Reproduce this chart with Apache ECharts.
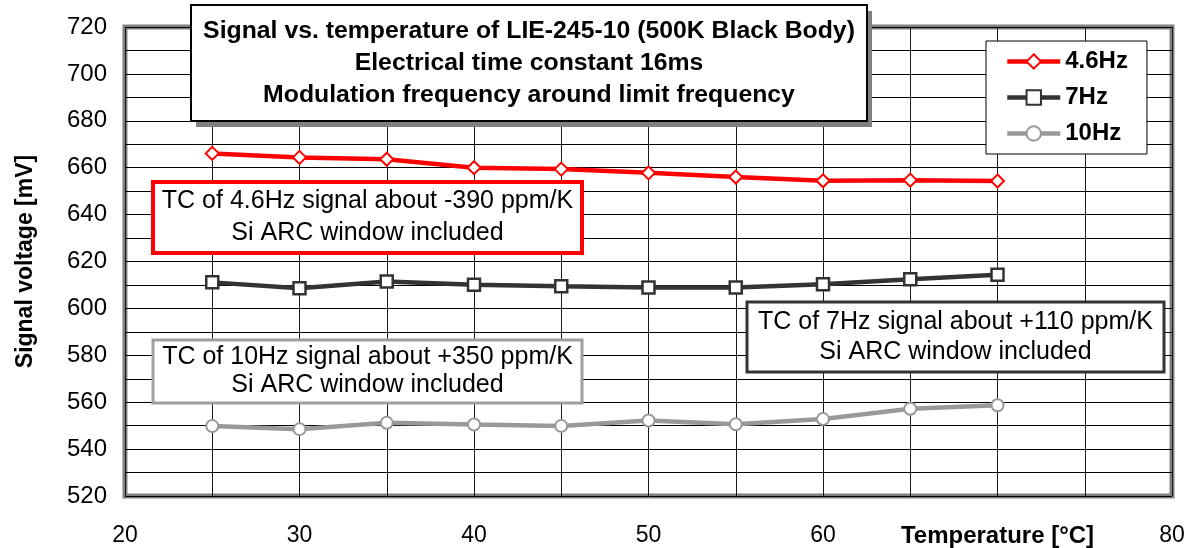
<!DOCTYPE html>
<html>
<head>
<meta charset="utf-8">
<script src="https://cdn.jsdelivr.net/npm/echarts@6/dist/echarts.min.js"></script>
<style>
html,body{margin:0;padding:0;background:#fff;}
#chart{width:1191px;height:548px;}
</style>
</head>
<body>
<div id="chart"></div>
<script>
const temps = [25, 30, 35, 40, 45, 50, 55, 60, 65, 70];
const sig46 = [666.1, 664.4, 663.6, 660.0, 659.4, 657.8, 656.0, 654.4, 654.7, 654.3];
const sig7  = [611.1, 608.6, 611.5, 610.1, 609.4, 608.9, 608.9, 610.3, 612.4, 614.3];
const sig10 = [549.8, 548.5, 551.2, 550.5, 549.9, 552.2, 550.6, 552.8, 557.2, 558.7];
const seriesNames = ['4.6Hz', '7Hz', '10Hz'];
const titleLines = [
  'Signal vs. temperature of LIE-245-10 (500K Black Body)',
  'Electrical time constant 16ms',
  'Modulation frequency around limit frequency'
];
const note46 = ['TC of 4.6Hz signal about -390 ppm/K', 'Si ARC window included'];
const note7  = ['TC of 7Hz signal about +110 ppm/K', 'Si ARC window included'];
const note10 = ['TC of 10Hz signal about +350 ppm/K', 'Si ARC window included'];
const xName = 'Temperature [°C]';
const xNameAt = 70;
const yName = 'Signal voltage [mV]';

const FONT = '"Liberation Sans", Arial, sans-serif';
const chart = echarts.init(document.getElementById('chart'));

function pairs(ys){ return temps.map((t,i)=>[t, ys[i]]); }

function box(x, y, w, h, stroke, lw, lines, lh, bold, size){
  return [
    {type:'rect', z:100, shape:{x:x, y:y, width:w, height:h},
     style:{fill:'#fff', stroke:stroke, lineWidth:lw}},
    {type:'text', z:101, x:x + w/2, y:y + h/2,
     style:{text:lines.join('\n'), fill:'#000', font:(bold?'bold ':'') + size + 'px ' + FONT,
            textAlign:'center', textVerticalAlign:'middle', lineHeight:lh}}
  ];
}

const option = {
  backgroundColor:'#fff',
  animation:false,
  grid:{left:125, right:19, top:27, bottom:52, show:true, borderColor:'#808080', borderWidth:5, backgroundColor:'transparent'},
  legend:{
    orient:'vertical', left:986, top:41,
    padding:[8, 19, 8, 19],
    backgroundColor:'#fff', borderColor:'#000', borderWidth:1,
    itemWidth:53, itemHeight:18, itemGap:11,
    lineStyle:{width:4.5},
    itemStyle:{borderWidth:2},
    textStyle:{fontFamily:FONT, fontSize:24, fontWeight:'bold', color:'#000', lineHeight:25},
    data:seriesNames
  },
  xAxis:[{
    type:'value', min:20, max:80, interval:5,
    axisLine:{show:false}, axisTick:{show:false},
    splitLine:{show:true, lineStyle:{color:'#1a1a1a', width:1}},
    axisLabel:{
      margin:28, color:'#000', fontFamily:FONT, fontSize:23,
      formatter:function(v){ return (v % 10 === 0 && v !== xNameAt) ? String(v) : ''; }
    }
  },{
    type:'value', min:20, max:80, interval:5, position:'bottom', offset:0,
    axisLine:{show:false}, axisTick:{show:false}, splitLine:{show:false},
    axisLabel:{
      margin:28, color:'#000', fontFamily:FONT, fontSize:24, fontWeight:'bold',
      formatter:function(v){ return v === xNameAt ? xName : ''; }
    }
  }],
  yAxis:{
    type:'value', min:520, max:720, interval:10,
    name:yName, nameLocation:'middle', nameGap:88,
    nameTextStyle:{fontFamily:FONT, fontSize:23, fontWeight:'bold', color:'#000'},
    axisLine:{show:false}, axisTick:{show:false},
    splitLine:{show:true, lineStyle:{color:'#000', width:1}},
    axisLabel:{margin:18, color:'#000', fontFamily:FONT, fontSize:24,
      formatter:function(v){ return v % 20 === 0 ? String(v) : ''; }}
  },
  series:[
    {name:seriesNames[0], type:'line', data:pairs(sig46), symbol:'diamond', symbolSize:13,
     lineStyle:{color:'#ff0000', width:4.5}, itemStyle:{color:'#fff', borderColor:'#ff0000', borderWidth:2}, z:5},
    {name:seriesNames[1], type:'line', data:pairs(sig7), symbol:'rect', symbolSize:12,
     lineStyle:{color:'#333333', width:4.5}, itemStyle:{color:'#fff', borderColor:'#333333', borderWidth:2.5}, z:5},
    {name:seriesNames[2], type:'line', data:pairs(sig10), symbol:'circle', symbolSize:12,
     lineStyle:{color:'#999999', width:4.5}, itemStyle:{color:'#fff', borderColor:'#999999', borderWidth:2}, z:5}
  ],
  graphic:[
    {type:'rect', z:99, shape:{x:196, y:11, width:676, height:116}, style:{fill:'#808080'}},
    ...box(191, 5, 676, 116, '#000', 2, titleLines, 32, true, 24.8),
    ...box(153, 182, 429, 71, '#ff0000', 4, note46, 32, false, 25),
    ...box(747, 302, 417, 70, '#333333', 3, note7, 30, false, 25),
    ...box(153, 340, 429, 63, '#a0a0a0', 3, note10, 28, false, 25)
  ]
};
chart.setOption(option);
</script>
</body>
</html>
